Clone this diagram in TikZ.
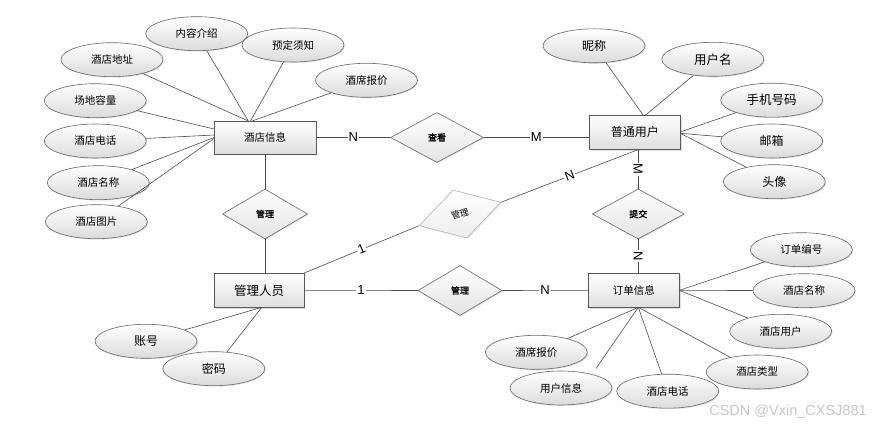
\documentclass[tikz,border=0pt]{standalone}
\usepackage{fontspec}
\newfontfamily\cjk{Noto Sans CJK SC}
\newfontfamily\cjkb[FakeBold=1.2]{Noto Sans CJK SC}
\newfontfamily\lat{Liberation Sans}
\usetikzlibrary{shapes.geometric,shadows}
\newcommand{\fsz}[1]{\fontsize{#1}{#1}\selectfont}
\begin{document}
\begin{tikzpicture}[x=1pt,y=-1pt,
  ent/.style={rectangle, draw=black!65, line width=0.7pt, top color=white, bottom color=black!13,
    minimum width=91pt, minimum height=34pt, inner sep=0pt,
    drop shadow={shadow xshift=1.3pt, shadow yshift=-1.3pt, opacity=0.25},
    font=\cjk\fsz{12}},
  att/.style={ellipse, draw=black!60, line width=0.6pt, top color=white, bottom color=black!14,
    minimum width=102pt, minimum height=34pt, inner sep=0pt,
    drop shadow={shadow xshift=1pt, shadow yshift=-1pt, opacity=0.2},
    font=\cjk\fsz{10.5}},
  rel/.style={diamond, draw=black!60, line width=0.6pt, top color=white, bottom color=black!11,
    minimum height=50pt, inner sep=0pt,
    drop shadow={shadow xshift=1pt, shadow yshift=-1pt, opacity=0.2},
    font=\cjkb\fsz{9}},
  ln/.style={draw=black!70, line width=0.6pt},
  card/.style={fill=white, inner sep=1pt, font=\lat\fsz{13}}
]
\fill[white] (0,0) rectangle (876,427);
\path[use as bounding box] (0,0) rectangle (876,427);

% entities
\node[ent, minimum width=102pt, minimum height=33pt, font=\cjk\fsz{10.5}] (hi) at (265,137.5) {酒店信息};
\node[ent] (pu) at (634.8,132.3) {普通用户};
\node[ent, minimum width=90pt, font=\cjk\fsz{12.5}] (gl) at (259,290.3) {管理人员};
\node[ent, font=\cjk\fsz{10.5}] (dd) at (633.8,290.3) {订单信息};

% relations
\node[rel, minimum width=93pt] (ck) at (437,137.5) {查看};
\node[rel, minimum width=85pt] (gla) at (265,214) {管理};
\node[rel, minimum width=85pt, rotate=16, draw=black!30, bottom color=black!7, font=\cjk\fsz{9}] (glb) at (460,214) {管理};
\node[rel, minimum width=84pt] (glc) at (460,290.5) {管理};
\node[rel, minimum width=92pt] (tj) at (638.2,214) {提交};

% attributes of 酒店信息
\node[att] (h1) at (196.7,33.7) {内容介绍};
\node[att] (h2) at (293,45) {预定须知};
\node[att] (h3) at (112,59.7) {酒店地址};
\node[att] (h4) at (366.5,80.3) {酒席报价};
\node[att] (h5) at (95.3,100.7) {场地容量};
\node[att] (h6) at (95.3,141) {酒店电话};
\node[att] (h7) at (98.3,182.7) {酒店名称};
\node[att] (h8) at (96.3,221.7) {酒店图片};

% attributes of 普通用户
\node[att, font=\cjk\fsz{12}] (p1) at (594,45.8) {昵称};
\node[att, font=\cjk\fsz{12.5}] (p2) at (712.8,59.3) {用户名};
\node[att, font=\cjk\fsz{12.5}] (p3) at (771.7,100.2) {手机号码};
\node[att, font=\cjk\fsz{12}] (p4) at (771.7,141) {邮箱};
\node[att, font=\cjk\fsz{12}] (p5) at (774.3,181.7) {头像};

% attributes of 管理人员
\node[att, font=\cjk\fsz{12}] (g1) at (146,341.3) {账号};
\node[att, font=\cjk\fsz{12}] (g2) at (213.8,368.7) {密码};

% attributes of 订单信息
\node[att] (d1) at (801.3,249.7) {订单编号};
\node[att] (d2) at (804,290.7) {酒店名称};
\node[att] (d3) at (780.7,331.3) {酒店用户};
\node[att] (d4) at (757.2,372) {酒店类型};
\node[att] (d5) at (667.7,391.2) {酒店电话};
\node[att] (d6) at (561,388) {用户信息};
\node[att] (d7) at (536.3,352.3) {酒席报价};

% connection points
\coordinate (hiT1) at (248.3,121);
\coordinate (hiT2) at (250.5,121);
\coordinate (hiT3) at (252,121);
\coordinate (puT1) at (643.3,115.3);
\coordinate (puT2) at (645.3,115.3);
\coordinate (puR1) at (680.3,132);
\coordinate (puR2) at (680.3,133.3);
\coordinate (puB) at (tj.north |- pu.south);
\coordinate (glB) at (261.7,307.3);
\coordinate (ddR) at (679.3,290.3);
\coordinate (ddB) at (638.3,307.3);
\coordinate (d6e) at (596,368.5);

% attribute lines
\draw[ln] (h1) -- (hiT1);
\draw[ln] (h3) -- (hiT1);
\draw[ln] (h2) -- (hiT2);
\draw[ln] (h4) -- (hiT3);
\draw[ln] (h5) -- (214,129);
\draw[ln] (h6) -- (214,135);
\draw[ln] (h7) -- (214,137.5);
\draw[ln] (h8) -- (214,138.5);

\draw[ln] (p1) -- (puT1);
\draw[ln] (p2) -- (puT2);
\draw[ln] (p3) -- (puR1);
\draw[ln] (p4) -- (puR2);
\draw[ln] (p5) -- (puR2);

\draw[ln] (g1) -- (glB);
\draw[ln] (g2) -- (glB);

\draw[ln] (d1) -- (ddR);
\draw[ln] (d2) -- (ddR);
\draw[ln] (d3) -- (ddR);
\draw[ln] (d4) -- (ddB);
\draw[ln] (d5) -- (ddB);
\draw[ln] (d6e) -- (ddB);
\draw[ln] (d7) -- (ddB);

% relationship lines
\draw[ln] (hi.east) -- node[card] {N} (ck.west);
\draw[ln] (ck.east) -- node[card] {M} (ck.east -| pu.west);
\draw[ln] (puB) -- node[card, sloped] {M} (tj.north);
\draw[ln] (tj.south) -- node[card, sloped] {N} (tj.south |- dd.north);
\draw[ln] (hi.south) -- (gla.north);
\draw[ln] (gla.south) -- (gla.south |- gl.north);
\draw[ln] (gl.north east) -- node[card, sloped] {1} (glb.west);
\draw[ln] (glb.east) -- node[card, sloped] {N} (puB);
\draw[ln] (gl.east) -- node[card] {1} (glc.west);
\draw[ln] (glc.east) -- node[card] {N} (dd.west);

% watermark
\node[font=\lat\fsz{14.5}, text=black!22] (wm) at (788,412) {CSDN @Vxin\_CXSJ881};
\end{tikzpicture}
\end{document}
